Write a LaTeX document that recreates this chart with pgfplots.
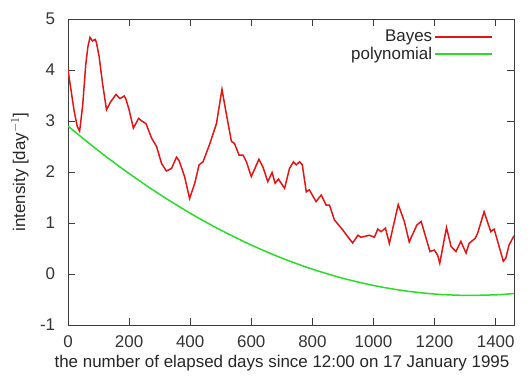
\documentclass[border=0pt]{standalone}
\usepackage{pgfplots}
\pgfplotsset{compat=1.18}
\usepackage{fontspec}
\setmainfont{Liberation Sans}
\definecolor{bred}{RGB}{228,20,20}
\definecolor{pgreen}{RGB}{40,220,40}
\definecolor{axgray}{RGB}{60,60,60}
\begin{document}
\fontsize{17}{19}\selectfont
\begin{tikzpicture}
\path[use as bounding box] (0,0) rectangle (528bp,379bp);
\begin{axis}[
  at={(68bp,54bp)}, anchor=south west,
  scale only axis, width=446bp, height=306bp,
  xmin=0, xmax=1460, ymin=-1, ymax=5,
  xtick={0,200,...,1400}, ytick={-1,0,...,5},
  tick align=inside, tick pos=both,
  major tick length=7bp,
  axis line style={axgray, line width=0.8pt},
  every tick/.style={axgray, line width=0.8pt},
  /pgf/number format/assume math mode=true,
  /pgf/number format/1000 sep={},
  tick label style={font=\fontsize{17}{19}\selectfont, text=black!80},
  xticklabel style={yshift=-5bp},
  yticklabel style={xshift=-7bp},
  xlabel={the number of elapsed days since 12:00 on 17 January 1995},
  ylabel={intensity [day$^{-1}$]},
  label style={font=\fontsize{17}{19}\selectfont, text=black!85},
  xlabel style={yshift=4bp, xshift=-9bp},
  legend style={draw=none, fill=none, at={(axis description cs:0.955,0.975)}, anchor=north east,
    font=\fontsize{17}{18}\selectfont, text=black!85, row sep=-1.2bp, inner sep=1bp},
  legend cell align=right,
  legend plot pos=right,
  legend image code/.code={\path (0bp,0bp) -- (57bp,0bp);\draw[#1, line width=1.7bp] (7bp,0bp) -- (57bp,0bp);},
]
\addplot[bred, line width=1.5pt] coordinates {
(0,4.0) (10,3.6) (20,3.2) (30,2.9) (38,2.8) (48,3.3) (58,4.1) (65,4.45) (72,4.64)
(80,4.57) (89,4.6) (93,4.54) (102,4.26) (113,3.74) (126,3.22) (140,3.38) (157,3.52)
(170,3.44) (184,3.49) (189,3.44) (200,3.22) (214,2.86) (231,3.05) (244,2.99) (255,2.95)
(274,2.66) (290,2.5) (306,2.17) (322,2.02) (339,2.07) (355,2.29) (364,2.22) (382,1.9)
(398,1.48) (415,1.78) (429,2.14) (442,2.2) (464,2.55) (486,2.95) (504,3.62) (518,3.15)
(535,2.6) (545,2.56) (560,2.33) (573,2.33) (584,2.2) (600,1.91) (625,2.25) (638,2.1)
(654,1.81) (668,1.99) (678,1.78) (689,1.86) (709,1.68) (725,2.07) (738,2.2) (747,2.14)
(758,2.2) (767,2.14) (780,1.61) (790,1.65) (812,1.42) (829,1.55) (845,1.35) (856,1.35)
(872,1.06) (900,0.86) (916,0.73) (932,0.61) (949,0.76) (959,0.72) (987,0.76) (1003,0.72)
(1014,0.88) (1025,0.83) (1039,0.9) (1052,0.6) (1081,1.36) (1101,1.03) (1117,0.63)
(1142,0.96) (1156,1.03) (1185,0.44) (1199,0.47) (1210,0.37) (1217,0.21) (1239,0.91)
(1254,0.54) (1270,0.44) (1286,0.64) (1303,0.41) (1313,0.6) (1333,0.7) (1341,0.8)
(1362,1.22) (1384,0.83) (1395,0.88) (1425,0.25) (1433,0.31) (1444,0.57) (1460,0.75)
};
\addlegendentry{Bayes}
\addplot[pgreen, line width=1.5pt, smooth] coordinates {
(0,2.9) (100,2.415) (200,1.97) (300,1.562) (400,1.192) (500,0.861) (600,0.568)
(700,0.312) (800,0.095) (900,-0.084) (1000,-0.225) (1100,-0.328) (1200,-0.393)
(1300,-0.419) (1400,-0.408) (1460,-0.383)
};
\addlegendentry{polynomial}
\end{axis}
\end{tikzpicture}
\end{document}
